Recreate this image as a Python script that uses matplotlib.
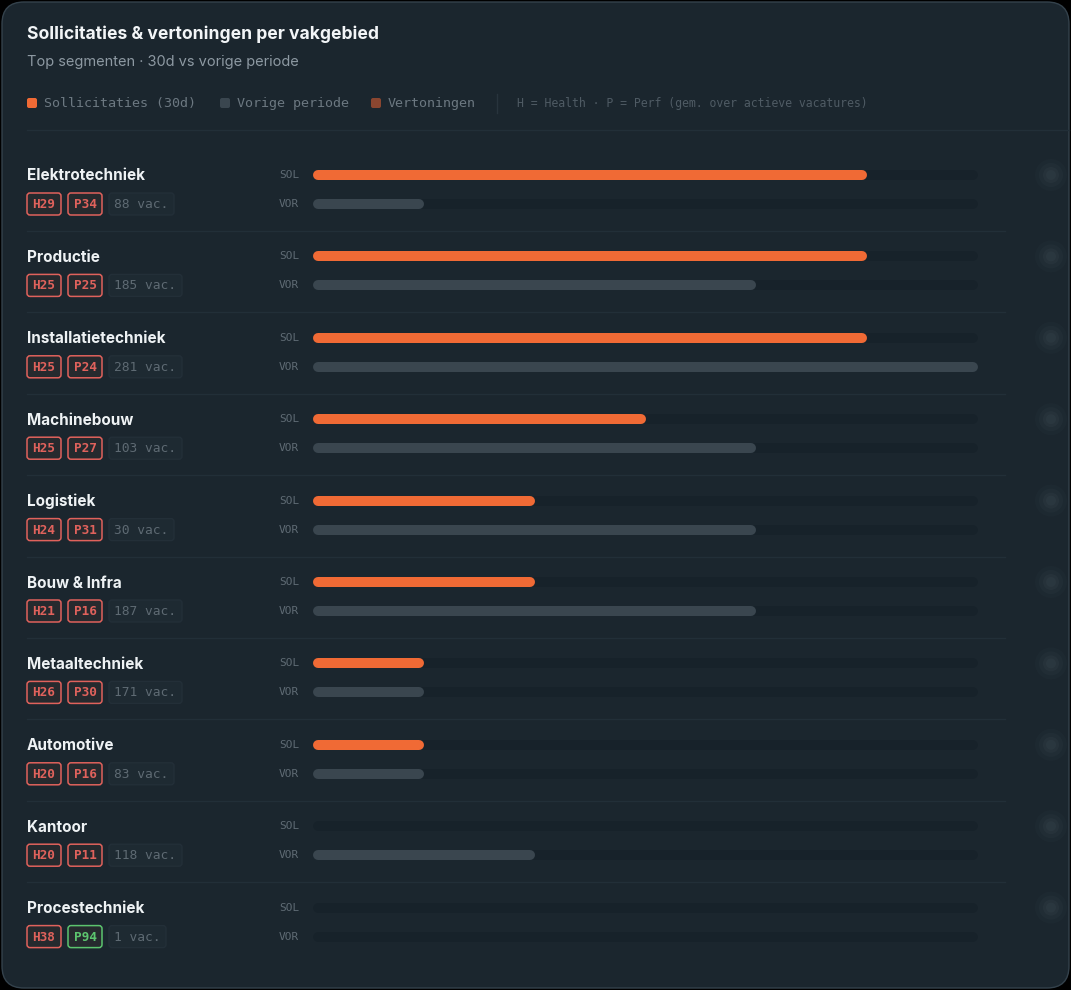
import matplotlib
matplotlib.use("Agg")
import matplotlib.pyplot as plt
from matplotlib.patches import FancyBboxPatch, Rectangle, Circle

# data
vakgebieden = ["Elektrotechniek", "Productie", "Installatietechniek", "Machinebouw",
               "Logistiek", "Bouw & Infra", "Metaaltechniek", "Automotive",
               "Kantoor", "Procestechniek"]
sollicitaties = [5, 5, 5, 3, 2, 2, 1, 1, 0, 0]
vorige = [1, 4, 6, 4, 4, 4, 1, 1, 2, 0]
health = [29, 25, 25, 25, 24, 21, 26, 20, 20, 38]
perf = [34, 25, 24, 27, 31, 16, 30, 16, 11, 94]
vacatures = [88, 185, 281, 103, 30, 187, 171, 83, 118, 1]
schaal_max = 6

W, H = 1071, 990
BG = "#1b262e"
TRACK = "#17222a"
ORANGE = "#f06a35"
GREY = "#3a464f"
SANS = ["Inter", "DejaVu Sans"]
MONO = ["DejaVu Sans Mono"]

fig = plt.figure(figsize=(W / 100, H / 100), dpi=100)
fig.patch.set_facecolor("black")
ax = fig.add_axes([0, 0, 1, 1])
ax.set_xlim(0, W)
ax.set_ylim(H, 0)
ax.axis("off")

# kaart
ax.add_patch(FancyBboxPatch((2, 2), W - 4, H - 4, boxstyle="round,pad=0,rounding_size=22",
                            fc=BG, ec="#34424c", lw=1))

# kop
ax.text(27, 34, "Sollicitaties & vertoningen per vakgebied", family=SANS, fontsize=12.6,
        weight="bold", color="#f2f5f7", va="center")
ax.text(27, 62, "Top segmenten · 30d vs vorige periode", family=SANS, fontsize=10.5,
        color="#8d99a2", va="center")

# legenda
legend = [(27, ORANGE, "Sollicitaties (30d)"), (220, GREY, "Vorige periode"),
          (371, "#8a4630", "Vertoningen")]
for x, c, t in legend:
    ax.add_patch(FancyBboxPatch((x, 98), 10, 10, boxstyle="round,pad=0,rounding_size=2",
                                fc=c, ec="none"))
    ax.text(x + 17, 104, t, family=MONO, fontsize=9.6, color="#6c7881", va="center")
ax.plot([497, 497], [94, 113], color="#28343d", lw=1)
ax.text(517, 103, "H = Health · P = Perf (gem. over actieve vacatures)", family=MONO,
        fontsize=8.3, color="#4f5b64", va="center")
ax.plot([27, W - 2], [130, 130], color="#222f38", lw=1)

row0, step = 175, 81.4
for i, naam in enumerate(vakgebieden):
    y = row0 + i * step
    ax.text(27, y + 1, naam, family=SANS, fontsize=11, weight="bold", color="#eef2f4", va="center")
    by = y + 29
    hc = "#e0625c"
    pc = "#5cc46e" if perf[i] >= 50 else "#e0625c"
    for x0, lab, c in [(27, f"H{health[i]}", hc), (68, f"P{perf[i]}", pc)]:
        ax.add_patch(FancyBboxPatch((x0, by - 11), 34, 22, boxstyle="round,pad=0,rounding_size=3",
                                    fc="#262a2e", ec=c, lw=1.1))
        ax.text(x0 + 17, by + 0.5, lab, family=MONO, fontsize=9.2, weight="bold", color=c,
                ha="center", va="center")
    vt = f"{vacatures[i]} vac."
    vw = len(vt) * 8 + 9
    ax.add_patch(FancyBboxPatch((109, by - 11), vw, 22, boxstyle="round,pad=0,rounding_size=3",
                                fc="#1e2a32", ec="#232f38", lw=1))
    ax.text(109 + vw / 2, by + 0.5, vt, family=MONO, fontsize=9.3, color="#5e6a73",
            ha="center", va="center")
    ax.text(279, y, "SOL", family=MONO, fontsize=8, color="#5f6b74", va="center")
    ax.text(279, by, "VOR", family=MONO, fontsize=8, color="#5f6b74", va="center")
    if i < len(vakgebieden) - 1:
        ax.plot([27, 1005], [y + 56, y + 56], color="#222f38", lw=1)
    # vage waardes rechts
    for rr, a in [(16, 0.04), (12, 0.06), (8, 0.08), (5, 0.08)]:
        ax.add_patch(Circle((1051, y), rr, fc="#65737c", ec="none", alpha=a))

# balken
bx = fig.add_axes([313 / W, 0, 665 / W, 1])
bx.set_xlim(0, schaal_max)
bx.set_ylim(H, 0)
bx.axis("off")
bx.patch.set_alpha(0)
r = 5 * schaal_max / 665
ys_sol = [row0 + i * step for i in range(len(vakgebieden))]
ys_vor = [v + 29 for v in ys_sol]
lw = 10 * 72 / 100
bx.hlines(ys_sol + ys_vor, r, schaal_max - r, color=TRACK, lw=lw, capstyle="round")
for ys, vals, c in [(ys_sol, sollicitaties, ORANGE), (ys_vor, vorige, GREY)]:
    yy = [a for a, v in zip(ys, vals) if v > 0]
    vv = [v - r for v in vals if v > 0]
    bx.hlines(yy, r, vv, color=c, lw=lw, capstyle="round")

fig.savefig("out.png", dpi=100, facecolor="black")
